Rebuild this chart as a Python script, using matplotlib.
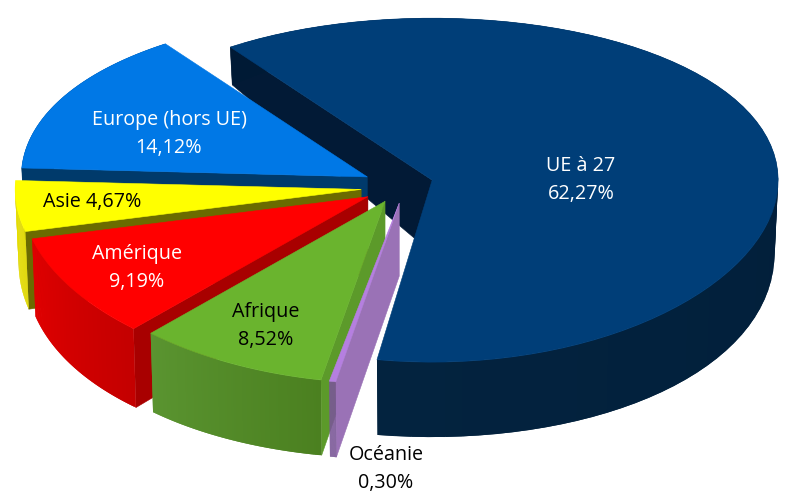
import numpy as np
import matplotlib
matplotlib.use('Agg')
import matplotlib.pyplot as plt
import matplotlib.colors as mcolors
from matplotlib.patches import Polygon

plt.rcParams['font.family'] = ['Open Sans', 'DejaVu Sans']

# data, in drawing order (clockwise from the back edge of UE a 27)
labels = ['UE à 27', 'Océanie', 'Afrique', 'Amérique', 'Asie', 'Europe (hors UE)']
values = [62.27, 0.30, 8.52, 9.19, 4.67, 14.12]
value_labels = ['62,27%', '0,30%', '8,52%', '9,19%', '4,67%', '14,12%']

# look of each slice
top_colors = ['#003e78', '#b57fe0', '#6ab42e', '#ff0000', '#ffff00', '#0078e6']
face_colors = ['#021a36', '#9a72b6', '#5c9a2a', '#a80000', '#6b6b00', '#003a6b']
rim_start = ['#001a35', '#7d5a9a', '#4b8020', '#c40000', '#e0d800', '#003a6b']
rim_end = ['#03233f', '#7d5a9a', '#5a9430', '#e00000', '#e8e000', '#003a6b']
text_colors = ['white', 'black', 'black', 'white', 'black', 'white']
label_pos = [(581, 180), (386, 469), (266, 326), (137, 268), (92, 202), (169, 134)]
one_line = [False, False, False, False, True, False]

# hand adjustments of the exploded slices
nudge_x = [-2, 6, 1, -2, -4, -2]
nudge_y = [1, 0, 0, 3, 4, 3]
trim_start = [0, 0, -1.0, 0, 0, 0]  # degrees
trim_end = [1.4, 0, 0, 0, 0, 0]  # degrees

# projection of the tilted pie
START_ANGLE = -35.7
CX, CY = 400, 183.5
EX, EY = 35, 20
RX, RY, RQ = 346, 172, 10


def depth(v):
    return 73 + 24.8 * v - 22.8 * v * v


def drop(x, y, cx, v):
    return x + (cx - x) * 0.01, y + depth(v)


def rim_point(apex, theta):
    v = -np.cos(theta)
    return apex[0] + RX * np.sin(theta), apex[1] + RY * v + RQ * v * v, v


def add_poly(ax, pts, color, lw=0.4):
    ax.add_patch(Polygon(pts, closed=True, facecolor=color, edgecolor=color, lw=lw))


fig = plt.figure(figsize=(8, 4.98), dpi=100)
ax = fig.add_axes([0, 0, 1, 1])
ax.set_xlim(0, 800)
ax.set_ylim(498, 0)
ax.axis('off')

spans = np.array(values) / sum(values) * 2 * np.pi
starts = np.radians(START_ANGLE) + np.concatenate([[0], np.cumsum(spans)[:-1]])

# back to front
order = [0, 5, 4, 3, 2, 1]
for i in order:
    mid = starts[i] + spans[i] / 2
    apex = (CX + EX * np.sin(mid) + nudge_x[i], CY - EY * np.cos(mid) + nudge_y[i])
    thetas = np.linspace(starts[i] + np.radians(trim_start[i]),
                         starts[i] + spans[i] - np.radians(trim_end[i]), 80)
    rim = [rim_point(apex, t) for t in thetas]

    # cut face on the first edge
    x0, y0, v0 = rim[0]
    add_poly(ax, [apex, (x0, y0), drop(x0, y0, apex[0], v0), drop(apex[0], apex[1], apex[0], 0)], face_colors[i])

    # outer side, overlapping strips so no seams show
    c0 = np.array(mcolors.to_rgb(rim_start[i]))
    c1 = np.array(mcolors.to_rgb(rim_end[i]))
    for k in range(len(rim) - 1):
        xa, ya, va = rim[k]
        xb, yb, vb = rim[min(k + 2, len(rim) - 1)]
        col = c0 + (c1 - c0) * k / (len(rim) - 2)
        add_poly(ax, [(xa, ya), (xb, yb), drop(xb, yb, apex[0], vb), drop(xa, ya, apex[0], va)], col, lw=0)

    # top
    add_poly(ax, [apex] + [(r[0], r[1]) for r in rim], top_colors[i])

for i in range(len(labels)):
    sep = ' ' if one_line[i] else '\n'
    ax.text(label_pos[i][0], label_pos[i][1], labels[i] + sep + value_labels[i],
            color=text_colors[i], fontsize=14.2, ha='center', va='center', linespacing=1.55)

fig.savefig('out.png', dpi=100)
